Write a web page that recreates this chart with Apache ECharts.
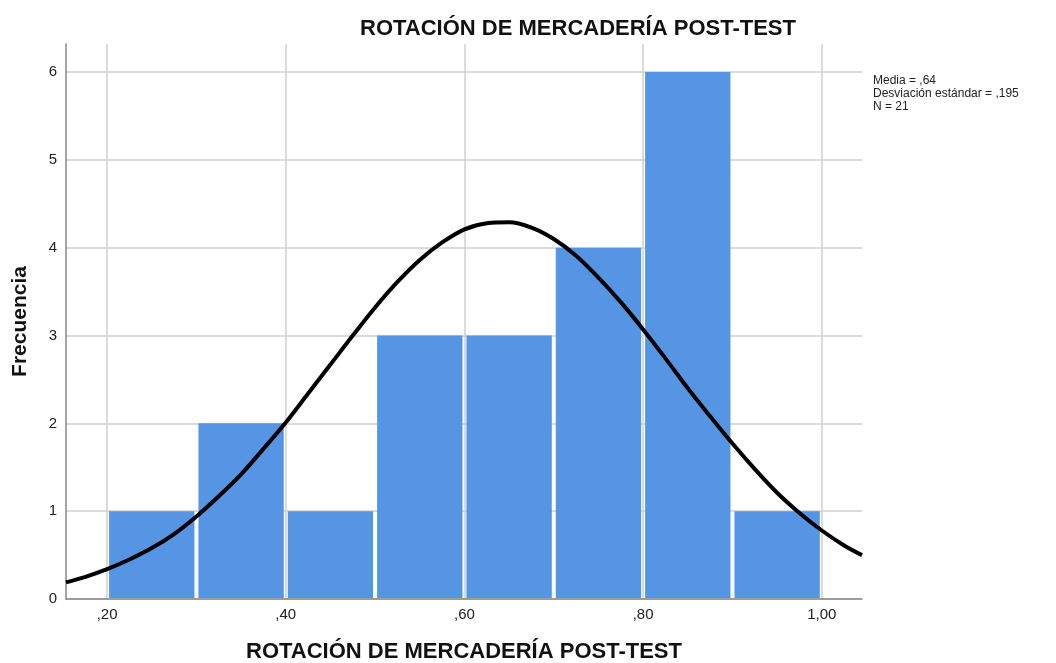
<!DOCTYPE html>
<html>
<head>
<meta charset="utf-8">
<script src="https://cdn.jsdelivr.net/npm/echarts@6/dist/echarts.min.js"></script>
<style>
html,body{margin:0;padding:0;background:#fff;}
#main{width:1056px;height:663px;}
</style>
</head>
<body>
<div id="main"></div>
<script>
// Histogram bins (start, end) and frequencies
const binStarts = [0.2, 0.3, 0.4, 0.5, 0.6, 0.7, 0.8, 0.9];
const binEnds   = [0.3, 0.4, 0.5, 0.6, 0.7, 0.8, 0.9, 1.0];
const frequencies = [1, 2, 1, 3, 3, 4, 6, 1];
// Normal curve points
const curveX = [0.154, 0.175, 0.20, 0.225, 0.25, 0.275, 0.30, 0.325, 0.35, 0.375, 0.40, 0.425, 0.45, 0.475, 0.50, 0.525, 0.55, 0.575, 0.60, 0.625, 0.65, 0.675, 0.70, 0.725, 0.75, 0.775, 0.80, 0.825, 0.85, 0.875, 0.90, 0.925, 0.95, 0.975, 1.00, 1.025, 1.045];
const curveY = [0.19, 0.25, 0.34, 0.45, 0.58, 0.74, 0.94, 1.17, 1.42, 1.71, 2.01, 2.34, 2.67, 3.00, 3.32, 3.61, 3.86, 4.06, 4.21, 4.28, 4.29, 4.23, 4.10, 3.91, 3.66, 3.38, 3.07, 2.74, 2.40, 2.08, 1.77, 1.48, 1.21, 0.98, 0.78, 0.61, 0.50];
// Tick values and labels
const xTickValues = [0.2, 0.4, 0.6, 0.8, 1.0];
const xTickLabels = [',20', ',40', ',60', ',80', '1,00'];
const yTickValues = [0, 1, 2, 3, 4, 5, 6];
const statsLines = ['Media = ,64', 'Desviación estándar = ,195', 'N = 21'];

const chart = echarts.init(document.getElementById('main'), null, {renderer: 'canvas'});
const barData = binStarts.map((s, i) => [s, binEnds[i], frequencies[i]]);
const curveData = curveX.map((x, i) => [x, curveY[i]]);
const FONT = '"Liberation Sans", Arial, sans-serif';

chart.setOption({
  animation: false,
  backgroundColor: '#fff',
  title: {
    text: 'ROTACIÓN DE MERCADERÍA POST-TEST',
    left: 573, top: 13, textAlign: 'center',
    textStyle: {fontFamily: FONT, fontWeight: 'bold', fontSize: 22, color: '#111'}
  },
  grid: {left: 66, right: 194, top: 44, bottom: 64, containLabel: false, outerBoundsMode: 'none'},
  xAxis: {
    type: 'value', min: 0.154, max: 1.045,
    name: 'ROTACIÓN DE MERCADERÍA POST-TEST',
    nameLocation: 'middle', nameGap: 42,
    nameTextStyle: {fontFamily: FONT, fontWeight: 'bold', fontSize: 22, color: '#111'},
    axisLine: {show: true, lineStyle: {color: '#888', width: 1.5}},
    axisTick: {show: false, customValues: xTickValues},
    axisLabel: {
      customValues: xTickValues, margin: 8,
      fontFamily: FONT, fontSize: 15, color: '#222',
      formatter: v => { const i = xTickValues.findIndex(t => Math.abs(t - v) < 1e-6); return i >= 0 ? xTickLabels[i] : ''; }
    },
    splitLine: {show: true, lineStyle: {color: '#cfcfcf', width: 1.5}}
  },
  yAxis: {
    type: 'value', min: 0, max: 6.32,
    name: 'Frecuencia', nameLocation: 'middle', nameGap: 35,
    nameTextStyle: {fontFamily: FONT, fontWeight: 'bold', fontSize: 21, color: '#111'},
    axisLine: {show: true, lineStyle: {color: '#888', width: 1.5}},
    axisTick: {show: false, customValues: yTickValues},
    axisLabel: {customValues: yTickValues, margin: 9, fontFamily: FONT, fontSize: 15, color: '#222'},
    splitLine: {show: true, lineStyle: {color: '#cfcfcf', width: 1.5}}
  },
  series: [
    {
      type: 'custom',
      data: barData,
      encode: {x: [0, 1], y: 2},
      renderItem: function (params, api) {
        const p0 = api.coord([api.value(0), api.value(2)]);
        const p1 = api.coord([api.value(1), 0]);
        return {
          type: 'rect',
          shape: {x: p0[0] + 2, y: p0[1], width: p1[0] - p0[0] - 4, height: p1[1] - p0[1] - 1},
          style: {fill: '#5595e4'}
        };
      },
      z: 2
    },
    {
      type: 'line', data: curveData, smooth: 0.35, symbol: 'none',
      lineStyle: {color: '#000', width: 4}, z: 3
    }
  ],
  graphic: [{
    type: 'text', left: 873, top: 74,
    style: {text: statsLines.join('\n'), font: '12px ' + FONT, fill: '#222', lineHeight: 13}
  }]
});
</script>
</body>
</html>
